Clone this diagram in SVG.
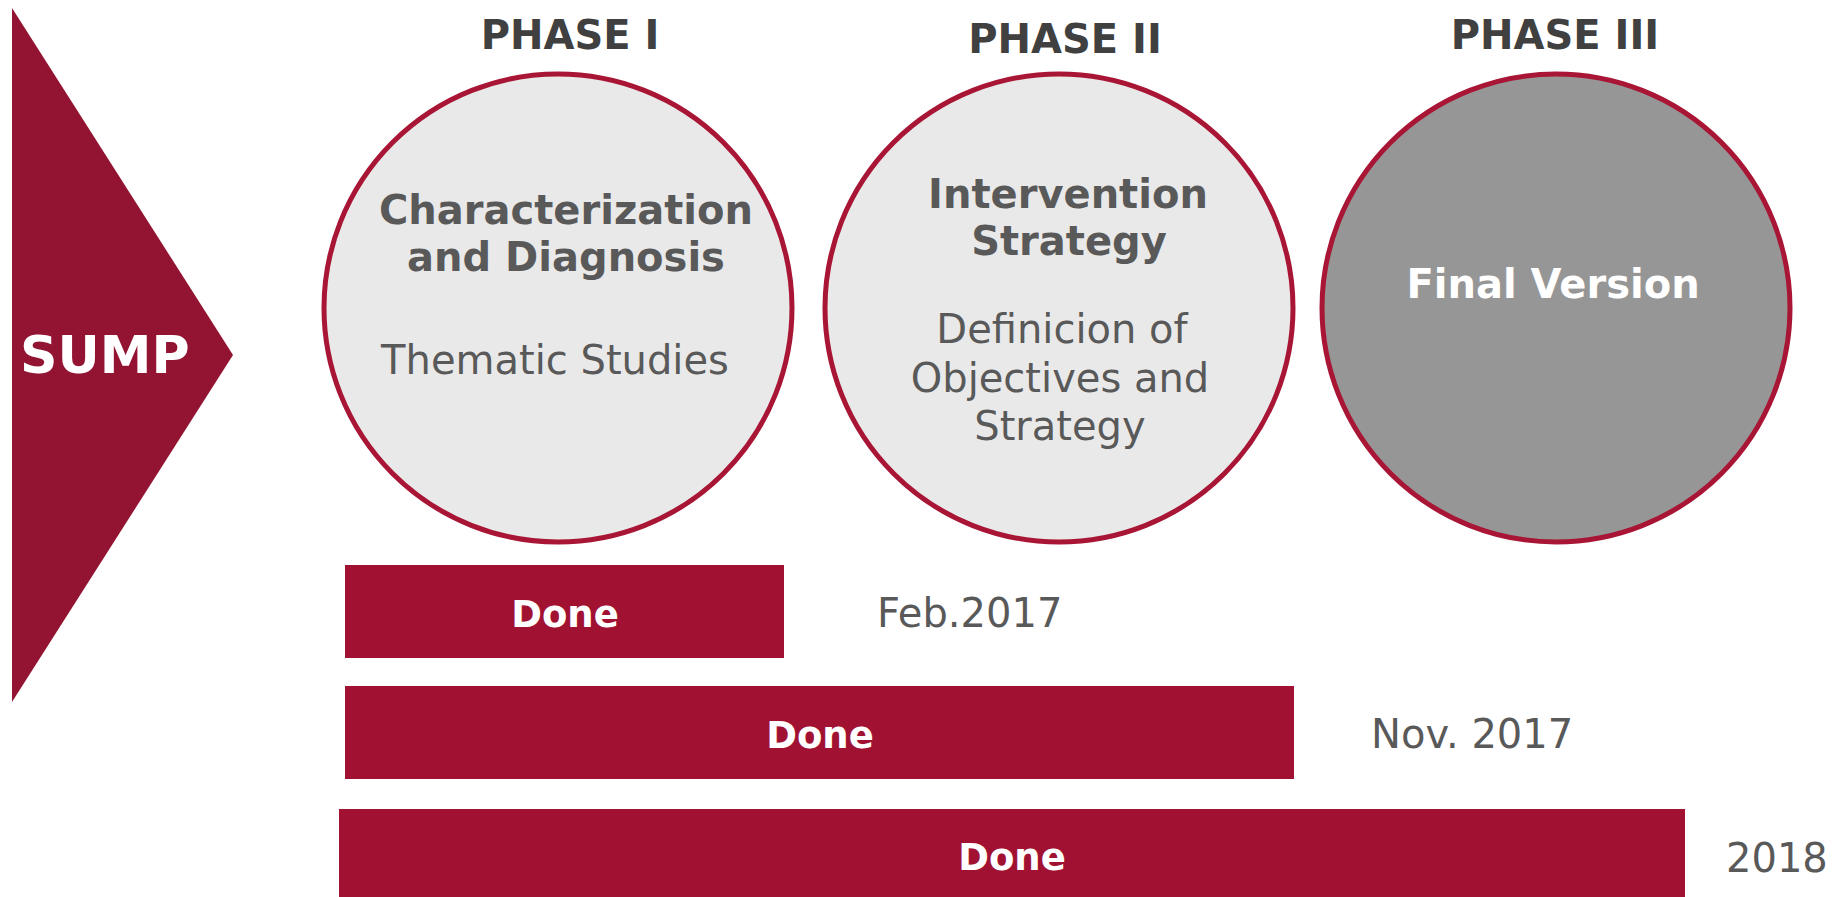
<svg xmlns="http://www.w3.org/2000/svg" width="1845" height="897" viewBox="0 0 1845 897">
<style>
.phase{font-family:"DejaVu Sans",Verdana,sans-serif;font-weight:bold;font-size:40px;fill:#404040;text-anchor:middle}
.circ{fill:#E9E9E9;stroke:#A81535;stroke-width:5}
.circ3{fill:#969696;stroke:#A81535;stroke-width:5}
.title{font-family:"DejaVu Sans",Verdana,sans-serif;font-weight:bold;font-size:40px;fill:#595959;text-anchor:middle}
.body{font-family:"DejaVu Sans",Verdana,sans-serif;font-size:40px;fill:#595959;text-anchor:middle}
.bar{fill:#A11232}
.done{font-family:"DejaVu Sans",Verdana,sans-serif;font-weight:bold;font-size:37px;fill:#FFFFFF;text-anchor:middle}
.date{font-family:"DejaVu Sans",Verdana,sans-serif;font-size:40px;fill:#595959}
</style>
<rect x="0" y="0" width="1845" height="897" fill="#FFFFFF"/>
<g id="sump">
<polygon points="12,8 233,355 12,702" fill="#931432"/>
<text x="20" y="373" font-family="DejaVu Sans,Verdana,sans-serif" font-weight="bold" font-size="52" fill="#FFFFFF">SUMP</text>
</g>
<g id="phase1">
<text class="phase" x="570" y="49">PHASE I</text>
<circle class="circ" cx="558" cy="308" r="234"/>
<text class="title" x="566" y="224">Characterization</text>
<text class="title" x="566" y="271">and Diagnosis</text>
<text class="body" x="555" y="374">Thematic Studies</text>
</g>
<g id="phase2">
<text class="phase" x="1065" y="53">PHASE II</text>
<circle class="circ" cx="1059" cy="308" r="234"/>
<text class="title" x="1068" y="208">Intervention</text>
<text class="title" x="1069" y="255">Strategy</text>
<text class="body" x="1062" y="343">Definicion of</text>
<text class="body" x="1060" y="392">Objectives and</text>
<text class="body" x="1060" y="440">Strategy</text>
</g>
<g id="phase3">
<text class="phase" x="1555" y="49">PHASE III</text>
<circle class="circ3" cx="1556" cy="308" r="234"/>
<text class="title" x="1553" y="298" style="fill:#FFFFFF">Final Version</text>
</g>
<g id="bar1">
<rect class="bar" x="345" y="565" width="439" height="93"/>
<text class="done" x="565" y="627">Done</text>
<text class="date" x="877" y="627">Feb.2017</text>
</g>
<g id="bar2">
<rect class="bar" x="345" y="686" width="949" height="93"/>
<text class="done" x="820" y="748">Done</text>
<text class="date" x="1371" y="748">Nov. 2017</text>
</g>
<g id="bar3">
<rect class="bar" x="339" y="809" width="1346" height="88"/>
<text class="done" x="1012" y="870">Done</text>
<text class="date" x="1726" y="872">2018</text>
</g>
<g id="connectors"></g>
</svg>
